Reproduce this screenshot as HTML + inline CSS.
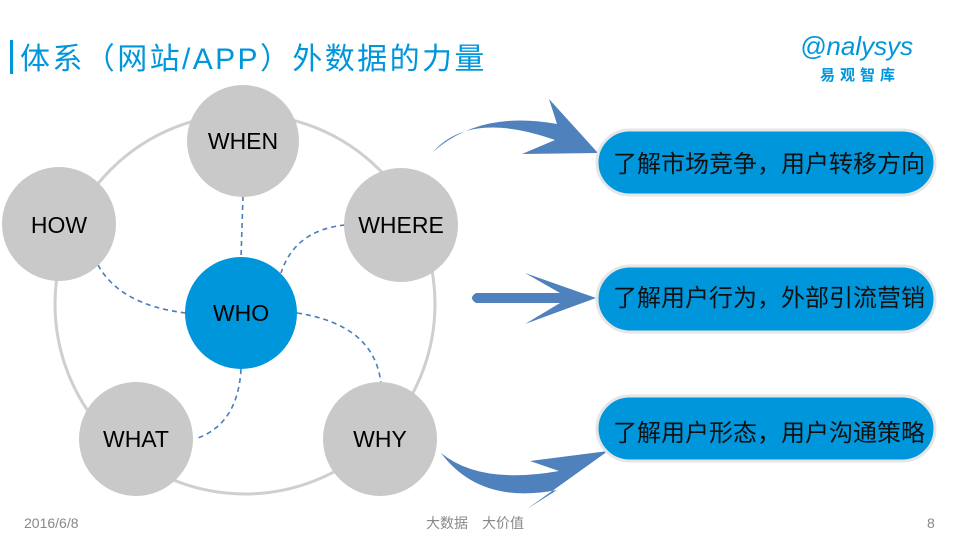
<!DOCTYPE html>
<html><head><meta charset="utf-8"><style>
html,body{margin:0;padding:0;background:#fff;}
body{width:960px;height:540px;overflow:hidden;position:relative;font-family:"Liberation Sans","Noto Sans CJK SC",sans-serif;}
svg{position:absolute;left:0;top:0;}
</style></head><body>
<svg width="960" height="540" viewBox="0 0 960 540" font-family="Liberation Sans, Noto Sans CJK SC, sans-serif">
<rect x="10" y="40" width="3" height="34" fill="#0096dc"/>
<text x="20" y="69" font-size="30" fill="#0096dc" letter-spacing="2.4">体系（网站/APP）外数据的力量</text>
<text x="800" y="55" font-size="26" fill="#0096dc" font-style="italic">@nalysys</text>
<text x="820" y="80" font-size="15" fill="#0096dc" font-weight="bold" letter-spacing="5">易观智库</text>

<circle cx="245" cy="304" r="190" fill="none" stroke="#cfcfcf" stroke-width="3"/>
<g fill="none" stroke="#4a7dbf" stroke-width="1.6" stroke-dasharray="5,4">
<path d="M243 196 L241 258"/>
<path d="M98 265 Q120 305 186 313"/>
<path d="M345 225 Q295 230 281 273"/>
<path d="M297 313 Q375 325 381 384"/>
<path d="M241 369 Q238 425 195 439"/>
</g>
<g fill="#c9c9c9">
<circle cx="243" cy="141" r="56"/>
<circle cx="59" cy="224" r="57"/>
<circle cx="401" cy="225" r="57"/>
<circle cx="136" cy="439" r="57"/>
<circle cx="380" cy="439" r="57"/>
</g>
<circle cx="241" cy="313" r="56" fill="#0096dc"/>
<g font-size="23" text-anchor="middle" fill="#000">
<text x="243" y="149">WHEN</text>
<text x="59" y="233">HOW</text>
<text x="401" y="233">WHERE</text>
<text x="241" y="321">WHO</text>
<text x="136" y="447">WHAT</text>
<text x="380" y="447">WHY</text>
</g>

<g fill="#4f81bd">
<path d="M433 152 Q470 110 555 140 L522 154 L598 153 L549 99 L557 124 Q480 110 433 152 Z"/>
<path d="M476 293 L560 293 L525 273 L596 298 L525 324 L560 303 L476 303 Q468 298 476 293 Z"/>
<path d="M441 453 Q480 505 557 490 L527 509 L608 451 L530 461 L559 471 Q480 485 441 453 Z"/>
</g>

<g>
<rect x="597" y="130" width="338" height="65" rx="32.5" fill="#0096dc" stroke="#e6e6e6" stroke-width="3"/>
<rect x="597" y="266" width="338" height="66" rx="33" fill="#0096dc" stroke="#e6e6e6" stroke-width="3"/>
<rect x="597" y="396" width="338" height="65" rx="32.5" fill="#0096dc" stroke="#e6e6e6" stroke-width="3"/>
</g>
<g font-size="24" fill="#111">
<text x="613" y="172">了解市场竞争，用户转移方向</text>
<text x="613" y="306">了解用户行为，外部引流营销</text>
<text x="613" y="441">了解用户形态，用户沟通策略</text>
</g>

<g font-size="14" fill="#888">
<text x="24" y="528">2016/6/8</text>
<text x="426" y="528">大数据　大价值</text>
<text x="927" y="528">8</text>
</g>
</svg>
</body></html>
